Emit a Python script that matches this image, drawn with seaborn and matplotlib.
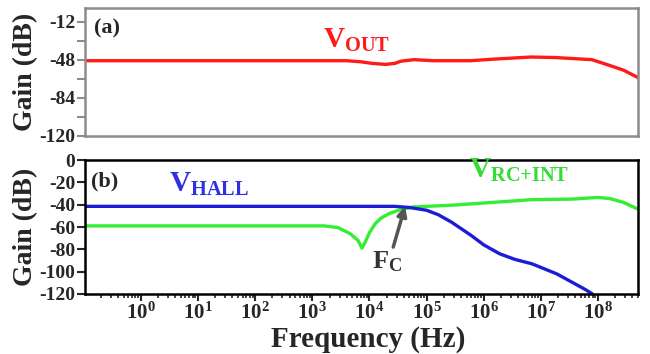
import math
import matplotlib
matplotlib.use("Agg")
import matplotlib.pyplot as plt
import matplotlib.ticker as mticker
import seaborn as sns
import pandas as pd

# ---- data ----
vout_freq = [0.1, 4e3, 7e3, 1.1e4, 1.9e4, 2.8e4, 3.5e4, 6e4, 1.3e5, 5.8e5,
             1.5e6, 6.8e6, 1.8e7, 7.8e7, 1.5e8, 2.8e8, 5e8]
vout_gain = [-49, -49, -50, -51.5, -52.5, -51.5, -49.5, -48, -49, -49,
             -47.5, -45.5, -46, -48, -53, -58, -65]

hall_freq = [0.1, 2.7e4, 5e4, 1e5, 1.6e5, 2.7e5, 6e5, 1e6, 1.9e6, 3.5e6,
             7e6, 1.9e7, 6e7, 8e7]
hall_gain = [-41.5, -41.5, -42.5, -45, -49, -55.5, -67.5, -76, -84, -89,
             -93, -102, -116, -120]

rc_freq = [0.1, 1.6e3, 2.8e3, 4.6e3, 6.3e3, 7.4e3, 8.5e3, 1.0e4, 1.26e4, 1.6e4,
           2.2e4, 3.7e4, 6e4, 2.7e5, 1.4e6, 7e6, 3.6e7, 9.8e7, 1.6e8, 2.8e8, 5e8]
rc_gain = [-59, -59, -60.5, -66, -72, -79, -73, -65, -57, -52,
           -48, -44, -42, -40.5, -38, -35.5, -35, -33.5, -34.5, -38, -44]

top_yticks = [-12, -48, -84, -120]
bot_yticks = [0, -20, -40, -60, -80, -100, -120]
xtick_exps = [0, 1, 2, 3, 4, 5, 6, 7, 8]

sns.set_style("ticks")
plt.rcParams["font.family"] = ["Liberation Serif", "DejaVu Serif"]
plt.rcParams["font.weight"] = "bold"
plt.rcParams["axes.unicode_minus"] = False
plt.rcParams["mathtext.fontset"] = "custom"
plt.rcParams["mathtext.rm"] = "Liberation Serif:bold"
plt.rcParams["mathtext.it"] = "Liberation Serif:bold"
plt.rcParams["mathtext.bf"] = "Liberation Serif:bold"

RED = "#ff1a1a"
BLUE = "#1c1cd8"
GREEN = "#33ee33"
GREY = "#8c8c8c"

fig = plt.figure(figsize=(6.5, 3.54), dpi=100)
ax1 = fig.add_axes([0.1308, 0.6172, 0.8507, 0.3616])
ax2 = fig.add_axes([0.1308, 0.1695, 0.8507, 0.3785])

df_out = pd.DataFrame({"f": vout_freq, "g": vout_gain})
df_hall = pd.DataFrame({"f": hall_freq, "g": hall_gain})
df_rc = pd.DataFrame({"f": rc_freq, "g": rc_gain})

sns.lineplot(data=df_out, x="f", y="g", ax=ax1, color=RED, lw=2.4, sort=False)
sns.lineplot(data=df_rc, x="f", y="g", ax=ax2, color=GREEN, lw=2.4, sort=False)
sns.lineplot(data=df_hall, x="f", y="g", ax=ax2, color=BLUE, lw=2.4, sort=False)

for ax in (ax1, ax2):
    ax.set_xscale("log")
    ax.set_xlim(0.105, 5e8)
    ax.set_xlabel("")
    ax.set_ylabel("Gain (dB)", fontsize=20, fontweight="bold", labelpad=1)

# top panel
ax1.set_ylim(-120, 1.5)
ax1.set_yticks(top_yticks)
ax1.yaxis.set_minor_locator(mticker.FixedLocator([-30, -66, -102]))
ax1.tick_params(axis="y", which="both", direction="out", length=6, width=1.5,
                color=GREY, labelsize=14, pad=1)
ax1.tick_params(axis="x", which="both", bottom=False, labelbottom=False)
for s in ax1.spines.values():
    s.set_color(GREY)
    s.set_linewidth(1.8)

# bottom panel
ax2.set_ylim(-120, 0)
ax2.set_yticks(bot_yticks)
ax2.tick_params(axis="y", which="major", direction="out", length=6, width=1.5,
                labelsize=14, pad=1)
ax2.set_xticks([10.0 ** e for e in xtick_exps])
ax2.xaxis.set_major_formatter(mticker.FuncFormatter(
    lambda v, p: r"$10^{%d}$" % round(math.log10(v))))
ax2.xaxis.set_minor_locator(mticker.LogLocator(base=10, subs=range(2, 10), numticks=50))
ax2.xaxis.set_minor_formatter(mticker.NullFormatter())
ax2.tick_params(axis="x", which="major", direction="out", length=5, width=1.5,
                labelsize=15, pad=1)
ax2.tick_params(axis="x", which="minor", direction="out", length=3, width=1.2)
for s in ax2.spines.values():
    s.set_color("black")
    s.set_linewidth(1.8)

for ax in (ax1, ax2):
    for lab in ax.get_yticklabels() + ax.get_xticklabels():
        lab.set_fontweight("bold")

fig.align_ylabels([ax1, ax2])

# x-axis title placed under the tick labels
fig.text(368 / 650, 1 - 347 / 354, "Frequency (Hz)", fontsize=21,
         fontweight="bold", ha="center", va="baseline")

# annotations
ax1.text(0.016, 0.84, "(a)", transform=ax1.transAxes, fontsize=16,
         fontweight="bold", va="center", ha="left")
ax2.text(0.011, 0.843, "(b)", transform=ax2.transAxes, fontsize=16,
         fontweight="bold", va="center", ha="left")
ax1.text(0.43, 0.684, r"$\mathrm{V_{OUT}}$", transform=ax1.transAxes,
         fontsize=21, color=RED, va="baseline", ha="left")
ax2.text(0.152, 0.761, r"$\mathrm{V_{HALL}}$", transform=ax2.transAxes,
         fontsize=21, color="#3030e0", va="baseline", ha="left")
ax2.text(0.694, 0.866, r"$\mathrm{V_{RC{+}INT}}$", transform=ax2.transAxes,
         fontsize=21, color="#33dd33", va="baseline", ha="left")
ax2.text(0.519, 0.194, r"$\mathrm{F_{C}}$", transform=ax2.transAxes,
         fontsize=19, color="#333333", va="baseline", ha="left")
ax2.annotate("", xy=(4.2e4, -41.5), xytext=(2.6e4, -78),
             arrowprops=dict(arrowstyle="-|>", color="#555555", lw=2.5,
                             mutation_scale=14, shrinkA=0, shrinkB=0))

fig.savefig("out.png", dpi=100)
